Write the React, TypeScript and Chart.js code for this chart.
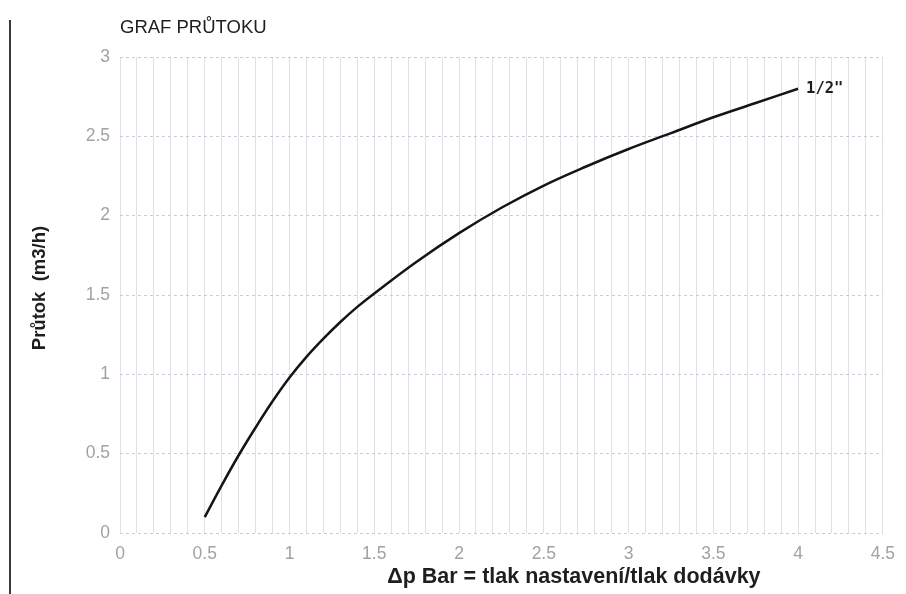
import React, { useEffect, useRef } from "react";
import { Chart, registerables } from "chart.js";

Chart.register(...registerables);

const TITLE = "GRAF PRŮTOKU";
const Y_TITLE = "Průtok  (m3/h)";
const X_TITLE = "Δp Bar = tlak nastavení/tlak dodávky";
const SERIES_LABEL = '1/2"';

const pressure = [0.5, 0.6, 0.7, 0.8, 0.9, 1.0, 1.1, 1.2, 1.3, 1.4, 1.5, 1.75, 2.0, 2.25, 2.5, 2.75, 3.0, 3.25, 3.5, 3.75, 4.0];
const flow = [0.1, 0.3, 0.49, 0.665, 0.83, 0.98, 1.11, 1.225, 1.33, 1.425, 1.51, 1.71, 1.89, 2.05, 2.19, 2.31, 2.42, 2.52, 2.62, 2.71, 2.8];

const X_MIN = 0;
const X_MAX = 4.5;
const X_GRID_STEP = 0.1;
const X_LABEL_STEP = 0.5;
const Y_MIN = 0;
const Y_MAX = 3;
const Y_STEP = 0.5;

const annotations = {
  id: "annotations",
  afterDraw(chart: any) {
    const { ctx, chartArea } = chart;
    ctx.save();
    // left border line
    ctx.strokeStyle = "#3a3a3a";
    ctx.lineWidth = 2;
    ctx.beginPath();
    ctx.moveTo(10, 20);
    ctx.lineTo(10, 594);
    ctx.stroke();

    ctx.fillStyle = "#1e1e1e";
    ctx.textBaseline = "middle";
    ctx.textAlign = "left";
    ctx.font = '18.5px "Liberation Sans"';
    ctx.fillText(TITLE, chartArea.left, 28);

    ctx.font = 'bold 21.5px "Liberation Sans"';
    ctx.textAlign = "center";
    ctx.fillText(X_TITLE, chartArea.left + chartArea.width * 0.595, 577);

    const meta = chart.getDatasetMeta(0);
    const last = meta.data[meta.data.length - 1];
    if (last) {
      ctx.font = 'bold 15.5px "DejaVu Sans Mono"';
      ctx.textAlign = "left";
      ctx.fillText(SERIES_LABEL, last.x + 8, last.y);
    }

    ctx.translate(40, 288);
    ctx.rotate(-Math.PI / 2);
    ctx.font = 'bold 18.5px "Liberation Sans"';
    ctx.textAlign = "center";
    ctx.fillText(Y_TITLE, 0, 0);
    ctx.restore();
  },
};

export default function App() {
  const ref = useRef<HTMLCanvasElement | null>(null);
  useEffect(() => {
    if (!ref.current) return;
    const chart = new Chart(ref.current, {
      type: "line",
      data: {
        datasets: [
          {
            label: SERIES_LABEL,
            data: pressure.map((p, i) => ({ x: p, y: flow[i] })),
            borderColor: "#151515",
            borderWidth: 2.5,
            pointRadius: 0,
            tension: 0.4,
            fill: false,
          },
        ],
      },
      options: {
        animation: false,
        responsive: false,
        layout: { padding: { left: 0, right: 21, top: 57, bottom: 0 } },
        plugins: {
          legend: { display: false },
          title: { display: false },
          tooltip: { enabled: false },
        },
        scales: {
          x: {
            type: "linear",
            min: X_MIN,
            max: X_MAX,
            afterFit: (s: any) => {
              s.height = 61;
            },
            border: { display: false },
            grid: { color: "rgba(214,214,226,0.75)", drawTicks: false, lineWidth: 1 },
            ticks: {
              stepSize: X_GRID_STEP,
              autoSkip: false,
              maxRotation: 0,
              padding: 11,
              color: "#a2a2a2",
              font: { family: '"Liberation Sans"', size: 17.5 },
              callback: (v: any) => {
                const n = Math.round(Number(v) * 10);
                return n % Math.round(X_LABEL_STEP * 10) === 0 ? String(n / 10) : "";
              },
            },
          },
          y: {
            min: Y_MIN,
            max: Y_MAX,
            afterFit: (s: any) => {
              s.width = 120;
            },
            border: { display: false, dash: [3, 3] },
            grid: { color: "rgba(190,190,208,0.8)", drawTicks: false, lineWidth: 1 },
            ticks: {
              stepSize: Y_STEP,
              padding: 10,
              color: "#a2a2a2",
              font: { family: '"Liberation Sans"', size: 17.5 },
              callback: (v: any) => String(Math.round(Number(v) * 10) / 10),
            },
          },
        },
      },
      plugins: [annotations],
    });
    return () => chart.destroy();
  }, []);
  return (
    <div style={{ position: "absolute", left: 0, top: 0, width: 906, height: 594, background: "#fff" }}>
      <canvas ref={ref} width={906} height={594} />
    </div>
  );
}
